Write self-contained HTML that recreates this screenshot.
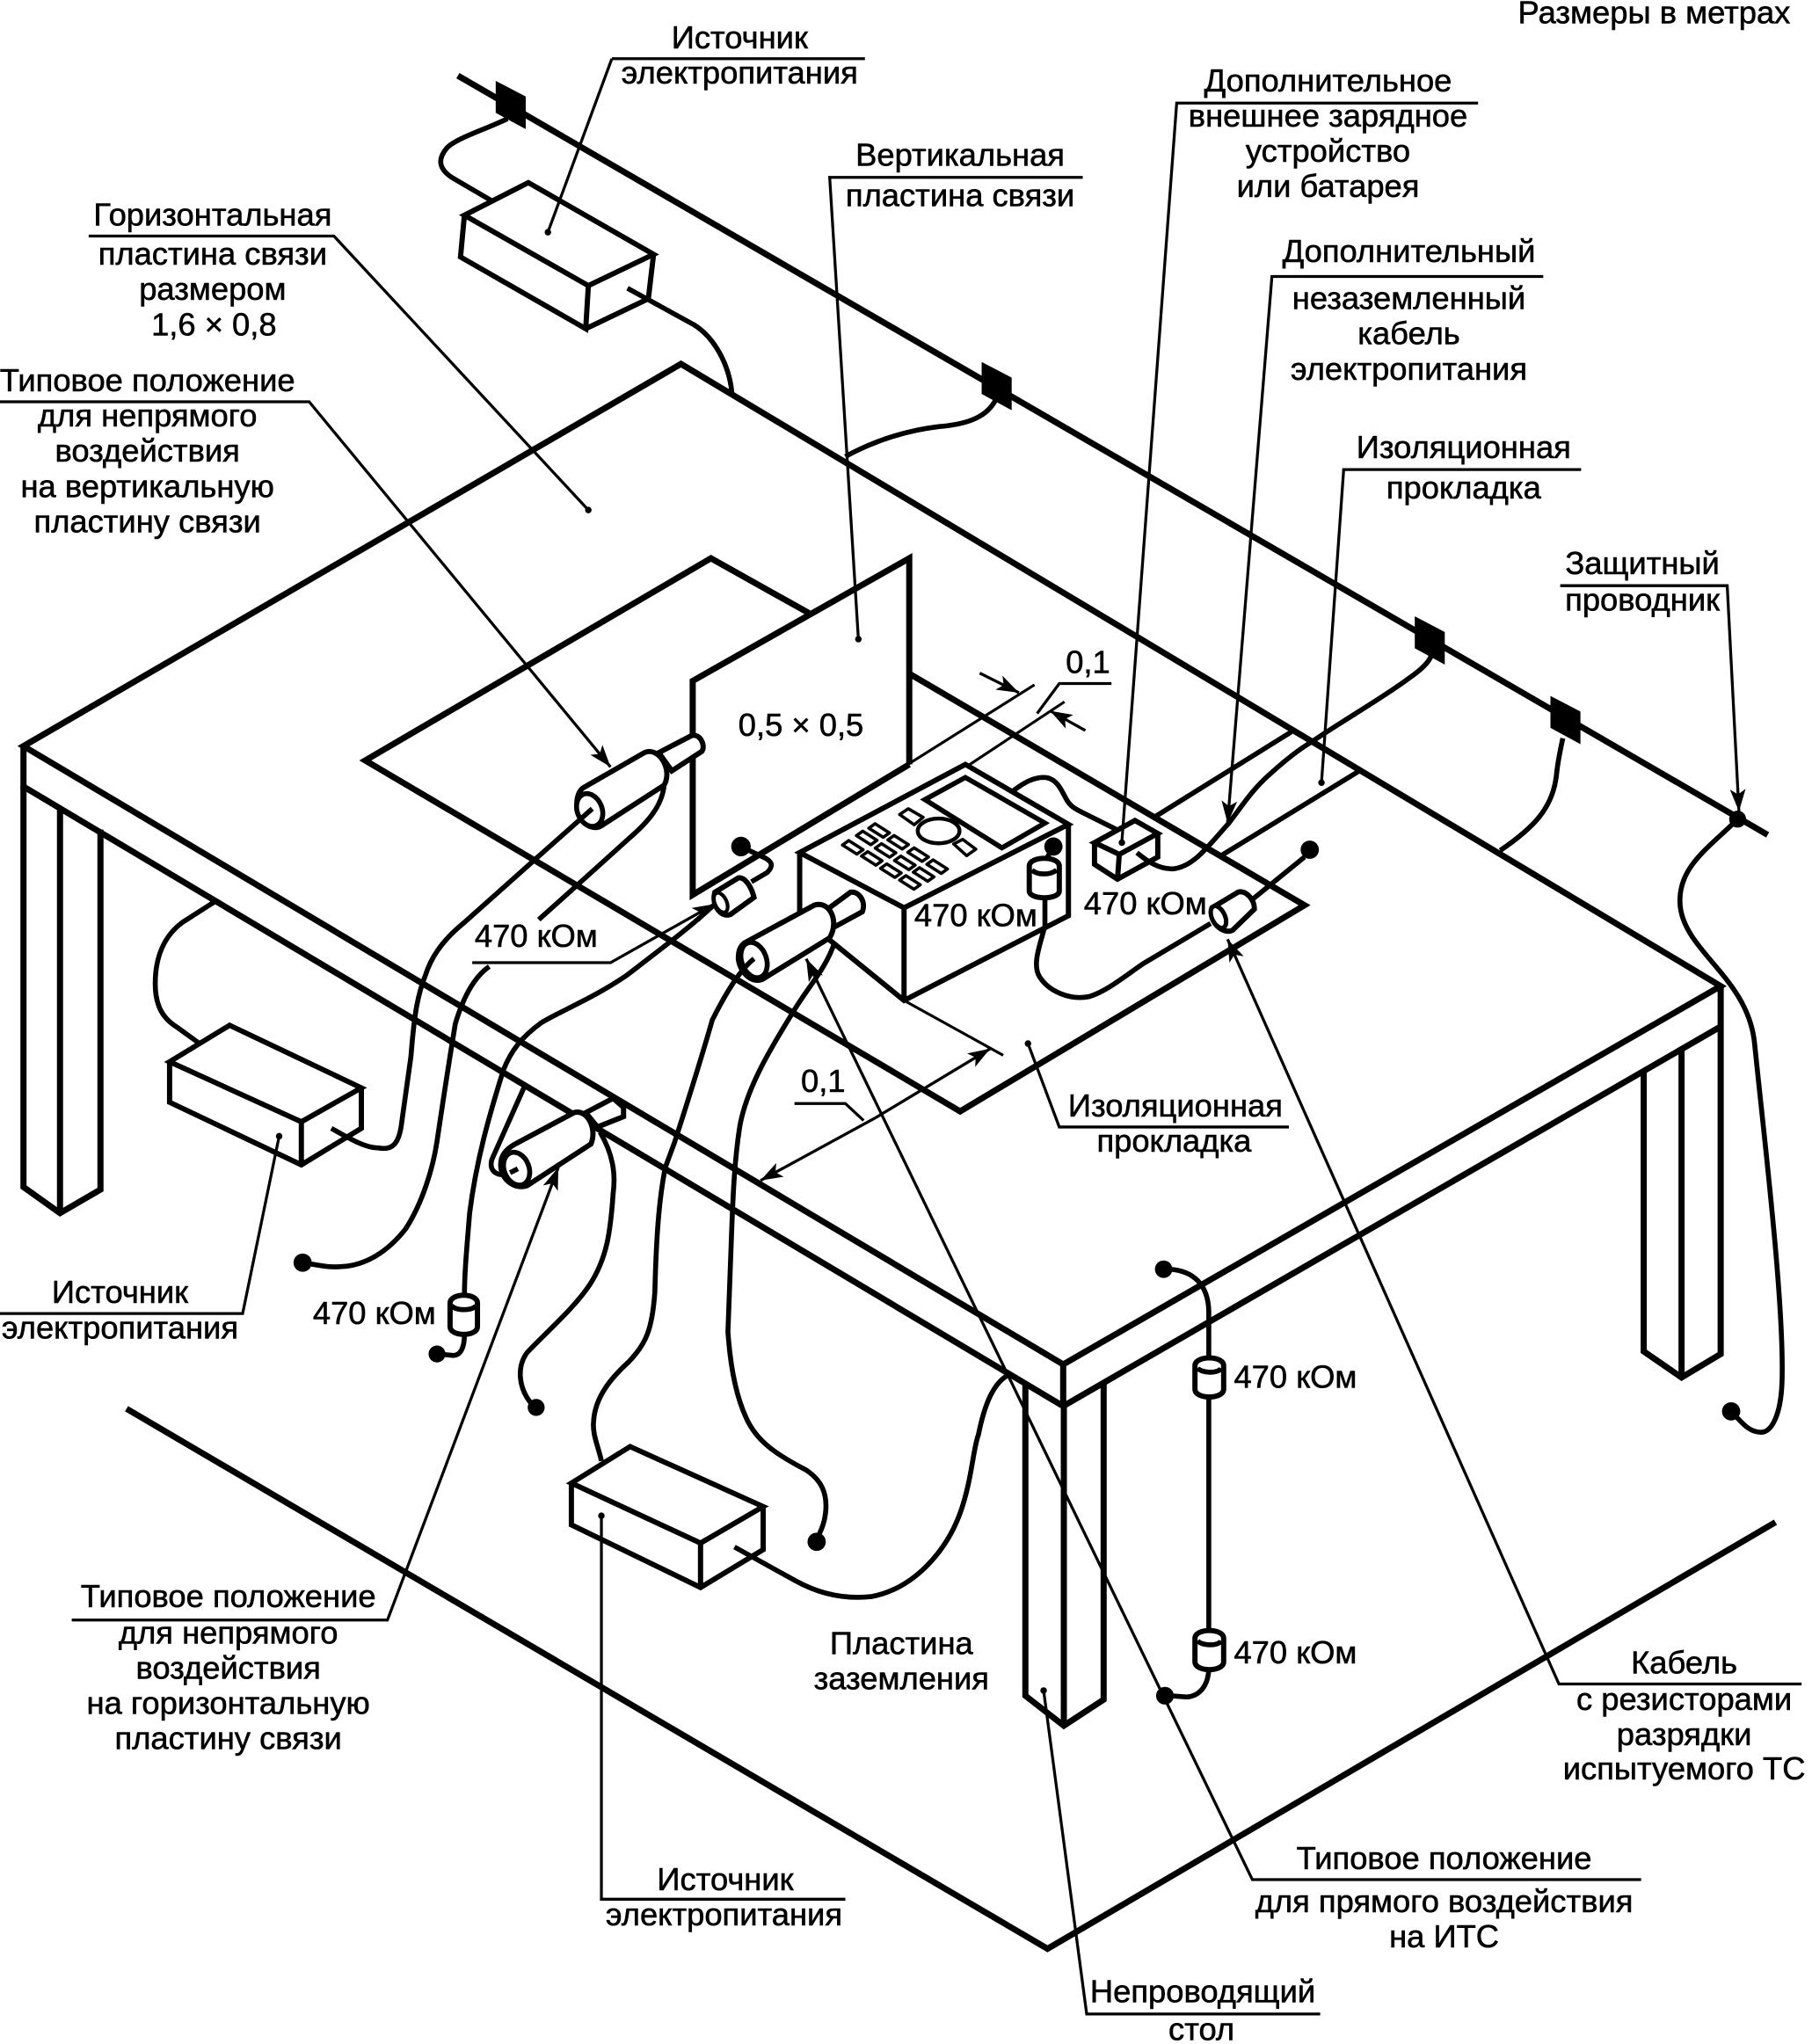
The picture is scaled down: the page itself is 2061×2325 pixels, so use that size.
<!DOCTYPE html>
<html lang="ru"><head><meta charset="utf-8"><title>Diagram</title>
<style>
html,body{margin:0;padding:0;background:#fff}
svg{display:block}
text{font-family:"Liberation Sans","DejaVu Sans",sans-serif;font-size:24.5px;fill:#000;stroke:#000;stroke-width:.4;text-anchor:middle}
.t{fill:none;stroke:#000;stroke-width:4.7;stroke-linecap:butt;stroke-linejoin:miter}
.b{fill:#fff;stroke:#000;stroke-width:4;stroke-linejoin:miter}
.o{fill:none;stroke:#000;stroke-width:3.8;stroke-linejoin:miter}
.c{fill:none;stroke:#000;stroke-width:3.8;stroke-linecap:butt;stroke-linejoin:round}
.l{fill:none;stroke:#000;stroke-width:2.2}
.s{fill:none;stroke:#000;stroke-width:2.1}
.k{fill:#fff;stroke:#000;stroke-width:2.4;stroke-linejoin:round}
</style></head><body>
<svg xmlns="http://www.w3.org/2000/svg" width="2061" height="2325" viewBox="0 0 1389 1567" preserveAspectRatio="none">
<defs>
<marker id="a" markerUnits="userSpaceOnUse" markerWidth="20" markerHeight="14" refX="17" refY="6" orient="auto"><path d="M0,0 L17,6 L0,12 L4,6 Z" fill="#000"/></marker>
<polygon id="k" class="k" points="-7.9,-1.8 -3.1,-5.2 7.9,1.8 3.1,5.2"/>
<polygon id="sq" fill="#000" points="-11.5,-18.5 11.5,-6.5 11.5,18.5 -11.5,6"/>
</defs>

<!-- ground plate -->
<path class="t" d="M97,1080 L803,1494 L1361,1167"/>
<!-- conductor -->
<path class="t" d="M351,58 L1355,640"/>
<use href="#sq" x="391.5" y="80.5"/><use href="#sq" x="764" y="296"/><use href="#sq" x="1096" y="491"/><use href="#sq" x="1200" y="552"/>
<circle cx="1332" cy="628" r="6.5"/>

<!-- table -->
<path class="t" d="M18,572 L522,279 L1319,756 L815,1046 Z"/>
<path class="t" d="M18,572 L18,603 L815,1078 L1319,787 M815,1046 L815,1078"/>
<!-- legs -->
<path class="t" d="M18,603 L18,910 L46,930 L77,912 L77,636 M46,620 L46,930"/>
<path class="t" d="M1260,820 L1260,1036 L1289,1056 L1319,1038 L1319,756 M1289,804 L1289,1056"/>
<path class="t" d="M786,1062 L786,1300 L815.5,1323 L846,1303 L846,1060 M815.5,1078 L815.5,1323"/>

<!-- pad -->
<path class="t" d="M620,470 L545,428 L280,583 L736,852 L1000,694 L698,517"/>
<path class="o" d="M884,627 L990,561 M936,656 L1042,591"/>

<!-- vertical plate -->
<path class="t" d="M697,586 L531,686 L531,522 L697,428 L697,586" fill="none"/>

<!-- top source -->
<path class="c" d="M389,91 C370,100 350,106 343,113 C335,122 336,130 348,137 L377,154"/>
<path class="b" d="M356,165 L405,140 L501,195 L451,219 Z M356,165 L353,197 L449,252 L451,219 M501,195 L497,229 L449,252"/>
<path class="c" d="M481,221 L532,249 C548,259 559,280 561,301"/>
<path class="c" d="M648,350 C670,338 695,330 720,327 C745,325 757,318 763,307"/>
<path class="c" d="M1150,652 C1175,635 1190,620 1193,595 C1194,585 1196,575 1198,566"/>

<!-- left source -->
<path class="c" d="M165,691 L140,707 C125,718 119,735 119,754 C119,770 124,780 135,787 L153,800"/>
<path class="b" d="M130,814 L176,786 L277,834 L231,860 Z M130,814 L130,845 L231,893 L277,865 L277,834 M231,860 L231,893"/>

<!-- front source -->
<path class="b" d="M438,1137 L483,1109 L585,1155 L537,1183 Z M438,1137 L438,1169 L537,1217 L585,1188 L585,1155 M537,1183 L537,1217"/>

<!-- device -->
<path class="b" d="M613,653.6 L740,586 L819,632 L693,696 Z M613,653.6 L613,702 L693,767 L819,702 L819,632 M693,696 L693,767"/>
<path class="o" d="M709,613 L740,596 L801,631 L768,650 Z" stroke-width="3.2"/>
<ellipse cx="719.5" cy="637" rx="16" ry="9.5" fill="#fff" stroke="#000" stroke-width="3"/>
<polygon class="k" points="689.6,624.4 696.3,620 707.6,626.6 700.8,632.3"/>
<polygon class="k" points="731,647 738,643.5 748,651 741,656"/>
<use href="#k" x="653.7" y="649.6"/><use href="#k" x="668.3" y="658.1"/><use href="#k" x="682.9" y="667.5"/><use href="#k" x="697.5" y="676.5"/>
<use href="#k" x="664.4" y="642.4"/><use href="#k" x="678.8" y="652"/><use href="#k" x="693.6" y="661.5"/><use href="#k" x="708" y="670.4"/>
<use href="#k" x="673.9" y="636.7"/><use href="#k" x="688.5" y="645.7"/><use href="#k" x="703.8" y="655.2"/><use href="#k" x="718.4" y="664.4"/>

<!-- battery -->
<path class="c" d="M777,606 C785,600 792,596 800,596 C809,596 813,604 817,612 C820,618 824,620 830,623 L860,638"/>
<path class="b" d="M839,646 L870,629 L887.5,639 L858,655 Z M839,646 L839,662.6 L856.6,674 L887.5,657 L887.5,639 M858,655 L856.6,674"/>
<path class="c" d="M871.5,653.7 C878,659 888,667 900,666 C915,664 925,650 942,631 C952,618 960,605 974,593 C985,583 995,575 1005,569 C1030,552 1060,535 1080,520 C1090,513 1095,508 1097,503"/>

<!-- device resistor -->
<path class="c" d="M801,688 L801,710 C797,725 791,740 797,749 C804,760 820,767 835,764 C848,760 860,750 876,739 L928,708"/>
<circle cx="807.5" cy="649" r="7"/>
<path class="c" d="M807,650 L800,662"/>
<path class="b" d="M789,664 C789,656 812,656 812,664 L812,683 C812,690 789,690 789,683 Z"/>
<path class="c" d="M791,667 C795,671 805,671 810,667" stroke-width="2.4"/>

<!-- right small resistor -->
<path class="c" d="M957,692 L1000,657"/><circle cx="1004" cy="651.4" r="7"/>
<path class="b" d="M929,696 L949,684 C955,682 962,690 961.5,697 L945,713 C938,717 926,707 929,696 Z"/>
<ellipse cx="934" cy="703" rx="5" ry="9" transform="rotate(-25 934 703)" fill="#fff" stroke="#000" stroke-width="3.4"/>

<!-- small resistor near plate -->
<path class="c" d="M547,694 C530,710 510,725 480,748 C455,765 430,775 415,784 C400,795 392,805 386,820 C375,855 365,890 360,930 C358,955 356,975 356,994"/>
<path class="c" d="M576,676 L588,669 C593,664 592,661 587,658 L570,650"/>
<circle cx="568" cy="649" r="7.5"/>
<path class="b" d="M548,684 L566,673 C571,672 576,680 578,688 L560,701 C553,704 545,694 548,684 Z"/>
<ellipse cx="552.5" cy="692" rx="4.5" ry="8" transform="rotate(-25 552.5 692)" fill="#fff" stroke="#000" stroke-width="2.8"/>

<!-- resistor bottom-left -->
<path class="b" d="M345,999 C345,991 366,991 366,999 L366,1017 C366,1025 345,1025 345,1017 Z"/>
<path class="c" d="M346,1001 C350,1005 362,1005 365,1001" stroke-width="2.4"/>
<path class="c" d="M356,1023 C356,1035 352,1040 346,1039 L336,1038"/><circle cx="335" cy="1038" r="6.5"/>

<!-- cyl A -->
<path class="b" d="M505,577 L530,564 C537,562 541,572 538,576 L515,591 Z"/>
<path class="b" d="M447,604 L494,577 C505,572 516,590 509,602 L461,633 C455,637 445,632 443,622 C441,614 443,607 447,604 Z"/>
<ellipse cx="452" cy="621" rx="9.5" ry="13" transform="rotate(-22 452 621)" fill="#fff" stroke="#000" stroke-width="3.8"/>
<path class="c" d="M454,620 L410,659 L355,708 C338,722 330,735 326,748 C319,765 317,785 315,810 L308,860 C306,878 300,882 290,880 C280,880 268,873 254,865"/>
<path class="c" d="M509,603 C507,618 497,630 483,642 L442,679 L413,705"/>
<path class="c" d="M375,741 C362,750 354,768 349,785 C344,815 339,848 335,875 C332,895 324,922 311,942 C297,960 280,970 262,971 C252,972 245,970 232,968"/>
<circle cx="232" cy="968" r="7"/>

<!-- cyl B -->
<path class="c" d="M402,833 L377,889 C374,900 384,903 396,899"/>
<path class="b" d="M449,853 L470,842 L478,849 L478,856 L458,864 Z"/>
<path class="b" d="M395,877 L440,853 C450,850 458,865 453,877 L404,909 C395,912 385,905 384,895 C383,886 388,881 395,877 Z"/>
<ellipse cx="396" cy="896" rx="9.5" ry="13" transform="rotate(-22 396 896)" fill="#fff" stroke="#000" stroke-width="3.8"/>
<path class="c" d="M397,896 L391,899" stroke-width="3"/>
<path class="c" d="M460,868 C470,885 472,900 470,915 C468,945 465,965 452,985 C440,1003 420,1020 404,1037 C396,1048 397,1065 409,1078"/>
<circle cx="411" cy="1079" r="6.5"/>

<!-- cyl C -->
<path class="b" d="M633,698 L652,684 C659,683 664,692 661,699 L639,711 Z"/>
<path class="b" d="M570.5,723 L624,694 C635,690 644,705 636,719 L584,751 C576,754 567,745 566,735 C566,729 567,726 570.5,723 Z"/>
<ellipse cx="578" cy="736" rx="9.5" ry="14" transform="rotate(-20 578 736)" fill="#fff" stroke="#000" stroke-width="3.8"/>
<path class="c" d="M578,735 C565,745 552,770 546,782 C538,810 527,845 517,876 L510,895 C505,920 503,950 502,990 C500,1020 495,1030 482,1044 C470,1055 456,1070 455,1090 C454,1100 459,1110 461,1120"/>
<path class="c" d="M640,722 C632,745 620,755 606,779 C590,805 572,835 567,864 C563,890 562,915 561,940 L558,1021 C560,1050 565,1072 572,1087 C580,1105 595,1115 618,1127 C630,1135 634,1145 633,1158 C632,1170 628,1175 626,1181"/>
<circle cx="626" cy="1182" r="7"/>
<path class="c" d="M563,1186 L610,1212 C630,1223 650,1226 668,1224 C700,1218 725,1190 736,1160 C745,1135 746,1110 750,1100 C755,1075 762,1060 773,1054"/>

<!-- bottom-center resistors -->
<path class="c" d="M896,973 C915,974 926,985 926.6,1005 L926.6,1046"/>
<circle cx="892" cy="973" r="6.7"/>
<path class="c" d="M926.6,1070 L926.6,1254"/>
<path class="b" d="M916,1047 C916,1039 938,1039 938,1047 L938,1065 C938,1073 916,1073 916,1065 Z"/>
<path class="c" d="M918,1049 C922,1053 934,1053 936,1049" stroke-width="2.4"/>
<path class="b" d="M916,1256 C916,1248 938,1248 938,1256 L938,1274 C938,1282 916,1282 916,1274 Z"/>
<path class="c" d="M918,1258 C922,1262 934,1262 936,1258" stroke-width="2.4"/>
<path class="c" d="M926.6,1280 C926,1292 920,1300 910,1301 L896,1300"/><circle cx="893" cy="1300" r="6.8"/>

<!-- right cable -->
<path class="c" d="M1332,628 C1310,650 1285,665 1288,695 C1292,730 1340,750 1345,800 C1352,870 1368,1000 1366,1060 C1365,1085 1358,1098 1350,1098 C1340,1098 1335,1090 1327,1082"/>
<circle cx="1327" cy="1082" r="7"/>

<!-- leaders -->
<path class="l" d="M469,45 L663,45 M469,45 L420,178"/><circle cx="420" cy="178" r="2.5"/>
<path class="l" d="M1133,79 L902,79 L860,645"/><circle cx="860" cy="646" r="2.5"/>
<path class="l" d="M830,136 L636,136 L658,490"/><circle cx="658" cy="490" r="2.5"/>
<path class="l" d="M68,181 L256,181 L451,391"/><circle cx="451" cy="391" r="2.5"/>
<path class="l" d="M0,308 L237,308 L468,588" marker-end="url(#a)"/>
<path class="l" d="M1183,212 L975,212 L941,631" marker-end="url(#a)"/>
<path class="l" d="M1212,360 L1030,360 L1013,600"/><circle cx="1013" cy="600" r="2.5"/>
<path class="l" d="M1196,449 L1324,449 L1333,622" marker-end="url(#a)"/>
<path class="l" d="M362,738 L468,738 L548,693" marker-end="url(#a)"/>
<path class="l" d="M0,1007 L186,1007 L214,871"/><circle cx="214" cy="871" r="2.5"/>
<path class="l" d="M55,1242 L297,1242 L428,895" marker-end="url(#a)"/>
<path class="l" d="M648,1456 L461,1456 L461,1162"/><circle cx="461" cy="1162" r="2.5"/>
<path class="l" d="M1258,1441 L960,1441 L618,735" marker-end="url(#a)"/>
<path class="l" d="M1381,1291 L1195,1291 L941,720" marker-end="url(#a)"/>
<path class="l" d="M1012,1544 L833,1544 L800,1296"/><circle cx="800" cy="1296" r="2.5"/>
<path class="l" d="M988,864 L812,864 L788,800"/><circle cx="788" cy="800" r="2.5"/>

<!-- dimensions -->
<path class="s" d="M696,586 L793,525 M742,587 L816,538"/>
<path class="l" d="M751,516 L781,531" marker-end="url(#a)"/>
<path class="l" d="M832,560 L805,545" marker-end="url(#a)"/>
<path class="l" d="M852,524 L812,524 L795,547"/>
<path class="s" d="M693,767 L769,809"/>
<path class="l" d="M671,857 L583,905" marker-end="url(#a)"/>
<path class="l" d="M671,857 L759,804" marker-end="url(#a)"/>
<path class="l" d="M609,846 L648,846 L662,859"/>

<!-- text -->
<g transform="translate(0,-1)">
<text x="1268" y="19">Размеры в метрах</text>
<text x="567" y="38">Источник</text><text x="567" y="65">электропитания</text>
<text x="1018" y="71">Дополнительное</text><text x="1018" y="98">внешнее зарядное</text><text x="1018" y="125">устройство</text><text x="1018" y="152">или батарея</text>
<text x="736" y="128">Вертикальная</text><text x="736" y="159">пластина связи</text>
<text x="163" y="174">Горизонтальная</text><text x="163" y="204">пластина связи</text><text x="163" y="231">размером</text><text x="164" y="258">1,6 × 0,8</text>
<text x="113" y="301">Типовое положение</text><text x="113" y="328">для непрямого</text><text x="113" y="355">воздействия</text><text x="113" y="382">на вертикальную</text><text x="113" y="409">пластину связи</text>
<text x="1080" y="202">Дополнительный</text><text x="1080" y="238">незаземленный</text><text x="1080" y="265">кабель</text><text x="1080" y="292">электропитания</text>
<text x="1122" y="352">Изоляционная</text><text x="1122" y="383">прокладка</text>
<text x="1259" y="441">Защитный</text><text x="1259" y="469">проводник</text>
<text x="614" y="565">0,5 × 0,5</text>
<text x="834" y="517">0,1</text><text x="631" y="838">0,1</text>
<text x="411" y="727">470 кОм</text><text x="748" y="711">470 кОм</text><text x="878" y="702">470 кОм</text><text x="287" y="1016">470 кОм</text><text x="993" y="1065">470 кОм</text><text x="993" y="1276">470 кОм</text>
<text x="901" y="857">Изоляционная</text><text x="900" y="884">прокладка</text>
<text x="92" y="1000">Источник</text><text x="92" y="1027">электропитания</text>
<text x="175" y="1233">Типовое положение</text><text x="175" y="1261">для непрямого</text><text x="175" y="1288">воздействия</text><text x="175" y="1315">на горизонтальную</text><text x="175" y="1342">пластину связи</text>
<text x="691" y="1269">Пластина</text><text x="691" y="1296">заземления</text>
<text x="556" y="1450">Источник</text><text x="555" y="1477">электропитания</text>
<text x="1291" y="1284">Кабель</text><text x="1291" y="1312">с резисторами</text><text x="1291" y="1339">разрядки</text><text x="1291" y="1365">испытуемого ТС</text>
<text x="1107" y="1434">Типовое положение</text><text x="1107" y="1467">для прямого воздействия</text><text x="1107" y="1494">на ИТС</text>
<text x="922" y="1536">Непроводящий</text><text x="921" y="1565">стол</text>
</g>
</svg>
</body></html>
